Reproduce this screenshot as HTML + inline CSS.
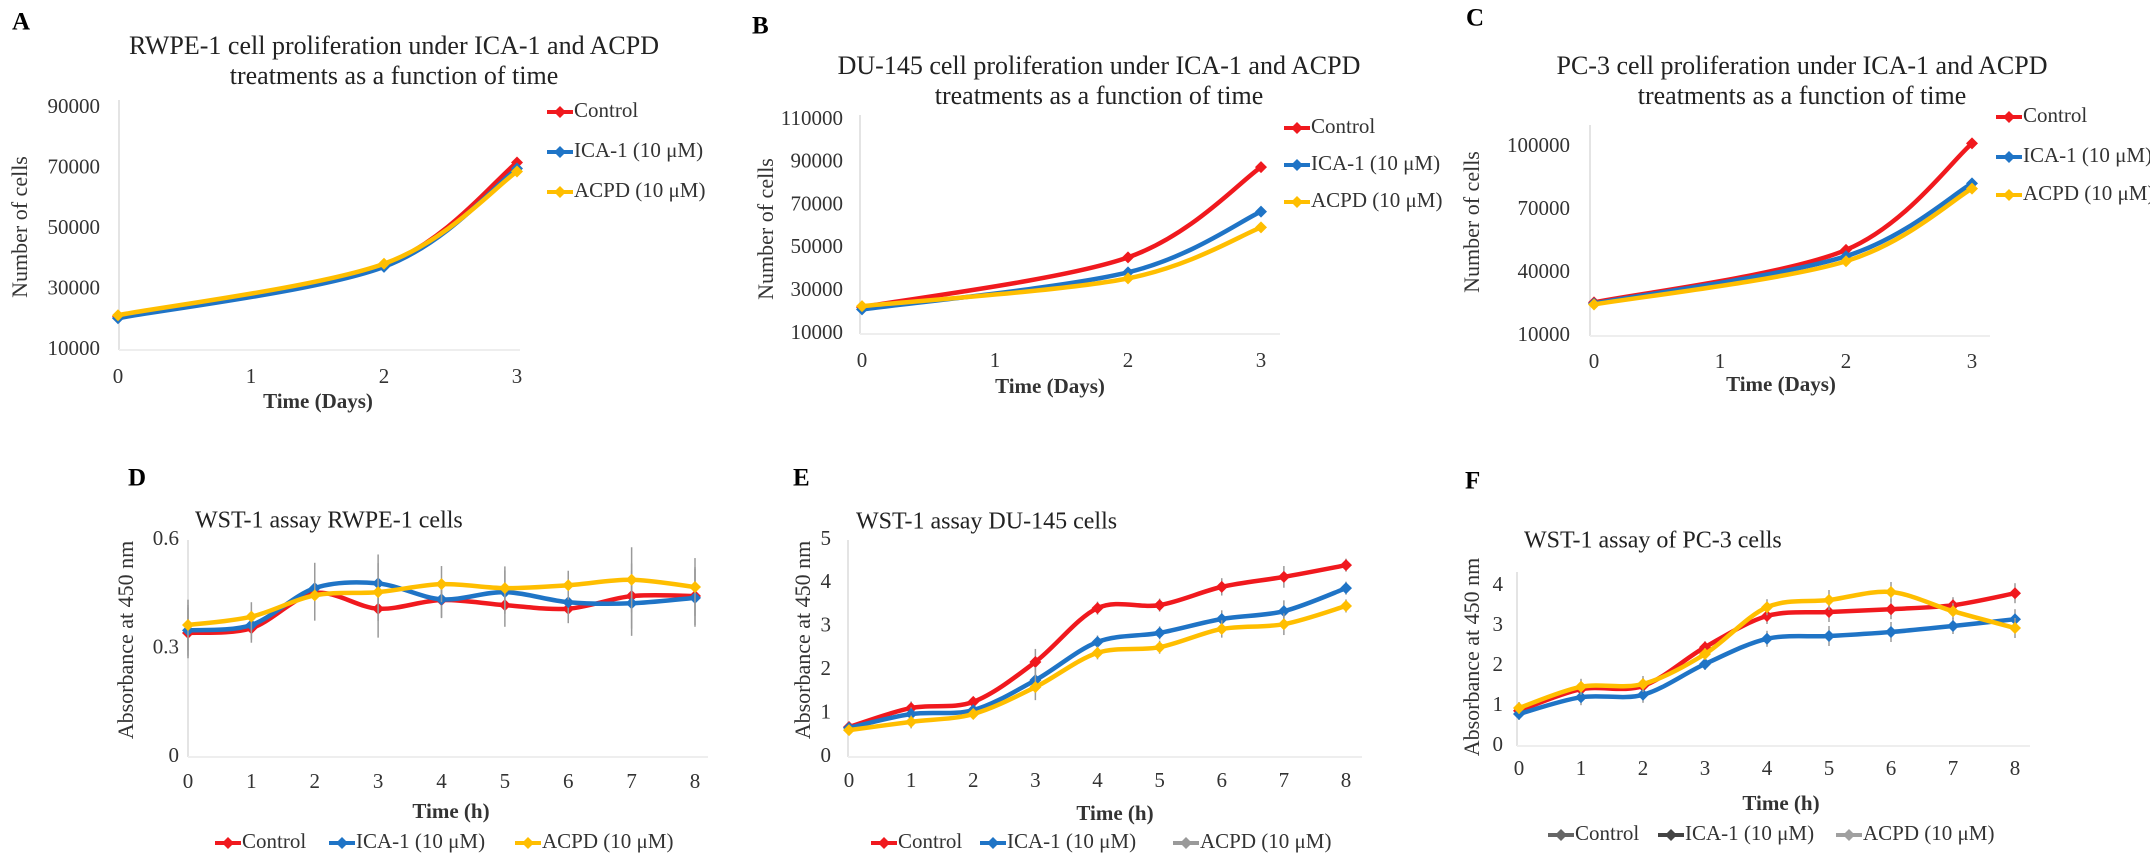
<!DOCTYPE html>
<html><head><meta charset="utf-8"><style>
html,body{margin:0;padding:0;background:#fff;}
svg{display:block;font-family:"Liberation Serif",serif;}
</style></head><body>
<svg id="fig" width="2150" height="866" viewBox="0 0 2150 866" xmlns="http://www.w3.org/2000/svg"></svg>
<script>
// ---- data ----
const daysAll = [0,1,2,3];
const days = [0,2,3];
const aControl = [21000,38000,72000];
const aIca = [20500,37500,70000];
const aAcpd = [21500,38500,69000];
const aTicks = [10000,30000,50000,70000,90000];
const bControl = [22500,45800,88000];
const bIca = [21500,38800,67200];
const bAcpd = [23000,36000,59800];
const bTicks = [10000,30000,50000,70000,90000,110000];
const cControl = [26000,51000,101700];
const cIca = [25500,48000,82700];
const cAcpd = [25000,45600,80200];
const cTicks = [10000,40000,70000,100000];
const hours = [0,1,2,3,4,5,6,7,8];
const dControl = [0.343,0.356,0.453,0.41,0.434,0.42,0.41,0.445,0.445];
const dIca = [0.35,0.365,0.467,0.48,0.436,0.456,0.428,0.425,0.44];
const dAcpd = [0.365,0.388,0.447,0.456,0.478,0.467,0.475,0.49,0.47];
const dErr = [0.07,0.04,0.07,0.08,0.05,0.06,0.04,0.09,0.08];
const dTicks = [0,0.3,0.6];
const eControl = [0.69,1.13,1.27,2.19,3.43,3.5,3.92,4.15,4.42];
const eIca = [0.67,0.99,1.08,1.77,2.65,2.86,3.18,3.36,3.89];
const eAcpd = [0.62,0.81,0.99,1.61,2.4,2.53,2.95,3.06,3.48];
const eErr = [0.12,0.15,0.1,0.3,0.15,0.15,0.2,0.25,0.15];
const eTicks = [0,1,2,3,4,5];
const fControl = [0.88,1.42,1.5,2.47,3.25,3.35,3.42,3.52,3.82];
const fIca = [0.8,1.22,1.28,2.05,2.68,2.75,2.85,3.0,3.17];
const fAcpd = [0.95,1.48,1.55,2.3,3.47,3.65,3.85,3.37,2.95];
const fErr = [0.15,0.2,0.2,0.15,0.2,0.25,0.25,0.2,0.25];
const fTicks = [0,1,2,3,4];
const seriesNames = ["Control","ICA-1 (10 μM)","ACPD (10 μM)"];

const RED="#f0191e", BLUE="#1f74c6", YEL="#ffbe00";
const NS="http://www.w3.org/2000/svg";
const svg=document.getElementById('fig');
function el(tag,attrs,parent,text){const e=document.createElementNS(NS,tag);for(const k in attrs)e.setAttribute(k,attrs[k]);if(text!==undefined)e.textContent=text;(parent||svg).appendChild(e);return e;}
function smoothPath(pts){
  let d=`M${pts[0][0]},${pts[0][1]}`;
  for(let i=0;i<pts.length-1;i++){
    const p0=pts[i-1]||pts[i],p1=pts[i],p2=pts[i+1],p3=pts[i+2]||p2;
    const t=0.16;
    const c1=[p1[0]+(p2[0]-p0[0])*t,p1[1]+(p2[1]-p0[1])*t];
    const c2=[p2[0]-(p3[0]-p1[0])*t,p2[1]-(p3[1]-p1[1])*t];
    d+=` C${c1[0]},${c1[1]} ${c2[0]},${c2[1]} ${p2[0]},${p2[1]}`;
  }
  return d;
}
function diamond(g,x,y,c,r){const p=el('path',{d:`M${x},${y-r} L${x+r},${y} L${x},${y+r} L${x-r},${y} Z`,fill:c},g);return p;}

function panel(o){
  const g=el('g',{});
  
  
  const xs=v=>o.x0+(v-o.xmin)/(o.xmax-o.xmin)*(o.x1-o.x0);
  const ys=v=>o.yb+(v-o.ymin)/(o.ymax-o.ymin)*(o.yt-o.yb);
  const lt=el('text',{x:o.letter[0],y:o.letter[1],'font-size':25,'font-weight':'bold','dominant-baseline':'middle'},g,o.letterText);
  
  o.title.forEach((t,i)=>{const e=el('text',{x:o.titlePos[0],y:o.titlePos[1]+i*30,'font-size':o.titleSize,'text-anchor':o.titleAnchor,'dominant-baseline':'middle',fill:'#222'},g,t);});
  const ya=el('line',{x1:o.axisX,y1:o.axisTop,x2:o.axisX,y2:o.yb,stroke:'#e4e4e4','stroke-width':2},g);
  
  const xa=el('line',{x1:o.axisX,y1:o.yb,x2:o.axisRight,y2:o.yb,stroke:'#eeeeee','stroke-width':2},g);
  
  o.yticks.forEach(v=>{const e=el('text',{x:o.ylabX,y:ys(v),'font-size':o.tickSize,'text-anchor':'end','dominant-baseline':'middle',fill:'#333'},g,String(v));});
  o.xticks.forEach(v=>{const e=el('text',{x:xs(v),y:o.xlabY,'font-size':o.tickSize,'text-anchor':'middle','dominant-baseline':'middle',fill:'#333'},g,String(v));});
  const xt=el('text',{x:o.xTitle[0],y:o.xTitle[1],'font-size':21,'font-weight':'bold','text-anchor':'middle','dominant-baseline':'middle',fill:'#333'},g,o.xTitleText);
  
  const yt=el('text',{x:0,y:0,'font-size':22,'text-anchor':'middle','dominant-baseline':'middle',fill:'#333',transform:`translate(${o.yTitle[0]},${o.yTitle[1]}) rotate(-90)`},g,o.yTitleText);
  
  o.series.forEach((s,si)=>{
    const sg=el('g',{},g);
    
    
    const pts=o.xv.map((x,i)=>[xs(x),ys(s.v[i])]);
    if(o.err){o.xv.forEach((x,i)=>{const e=el('line',{x1:xs(x),x2:xs(x),y1:ys(s.v[i]+o.err[i]),y2:ys(s.v[i]-o.err[i]),stroke:'#9a9a9a','stroke-width':1.5},sg);});}
    const p=el('path',{d:smoothPath(pts),fill:'none',stroke:s.c,'stroke-width':4.5,'stroke-linejoin':'round'},sg);
    
    pts.forEach(pt=>{ diamond(sg,pt[0],pt[1],s.c,6); });
  });
  o.legend.forEach((L,i)=>{
    const lg=el('g',{},g);
    
    
    const c=L[2];
    el('line',{x1:L[0]-13,x2:L[0]+13,y1:L[1],y2:L[1],stroke:c,'stroke-width':4},lg);
    diamond(lg,L[0],L[1],c,6);
    el('text',{x:L[0]+14,y:L[1],'font-size':21,'dominant-baseline':'middle',fill:'#333'},lg,seriesNames[i]);
  });
}

const topSeries=(a,b,c)=>[{v:a,c:RED},{v:b,c:BLUE},{v:c,c:YEL}];
panel({name:'panel-a',letterText:'A',letter:[12,24],title:['RWPE-1 cell proliferation under ICA-1 and ACPD','treatments as a function of time'],titlePos:[394,48],titleSize:26,titleAnchor:'middle',
  x0:118,x1:517,xmin:0,xmax:3,yb:350,yt:108,ymin:10000,ymax:90000,axisX:119,axisTop:100,axisRight:520,
  yticks:aTicks,xticks:daysAll,ylabX:100,xlabY:378,tickSize:21,xTitle:[318,403],xTitleText:'Time (Days)',yTitle:[22,227],yTitleText:'Number of cells',
  xv:days,series:topSeries(aControl,aIca,aAcpd),
  legend:[[560,112,RED],[560,152,BLUE],[560,192,YEL]]});
panel({name:'panel-b',letterText:'B',letter:[752,28],title:['DU-145 cell proliferation under ICA-1 and ACPD','treatments as a function of time'],titlePos:[1099,68],titleSize:26,titleAnchor:'middle',
  x0:862,x1:1261,xmin:0,xmax:3,yb:334,yt:120,ymin:10000,ymax:110000,axisX:860,axisTop:115,axisRight:1280,
  yticks:bTicks,xticks:daysAll,ylabX:843,xlabY:362,tickSize:21,xTitle:[1050,388],xTitleText:'Time (Days)',yTitle:[768,229],yTitleText:'Number of cells',
  xv:days,series:topSeries(bControl,bIca,bAcpd),
  legend:[[1297,128,RED],[1297,165,BLUE],[1297,202,YEL]]});
panel({name:'panel-c',letterText:'C',letter:[1466,20],title:['PC-3 cell proliferation under ICA-1 and ACPD','treatments as a function of time'],titlePos:[1802,68],titleSize:26,titleAnchor:'middle',
  x0:1594,x1:1972,xmin:0,xmax:3,yb:336,yt:147,ymin:10000,ymax:100000,axisX:1590,axisTop:125,axisRight:1990,
  yticks:cTicks,xticks:daysAll,ylabX:1570,xlabY:363,tickSize:21,xTitle:[1781,386],xTitleText:'Time (Days)',yTitle:[1474,222],yTitleText:'Number of cells',
  xv:days,series:topSeries(cControl,cIca,cAcpd),
  legend:[[2009,117,RED],[2009,157,BLUE],[2009,195,YEL]]});
panel({name:'panel-d',letterText:'D',letter:[128,480],title:['WST-1 assay RWPE-1 cells'],titlePos:[195,522],titleSize:24,titleAnchor:'start',
  x0:188,x1:695,xmin:0,xmax:8,yb:757,yt:540,ymin:0,ymax:0.6,axisX:188,axisTop:540,axisRight:708,
  yticks:dTicks,xticks:hours,ylabX:179,xlabY:783,tickSize:21,xTitle:[451,813],xTitleText:'Time (h)',yTitle:[128,640],yTitleText:'Absorbance at 450 nm',
  xv:hours,series:topSeries(dControl,dIca,dAcpd),err:dErr,
  legend:[[228,843,RED],[342,843,BLUE],[528,843,YEL]]});
panel({name:'panel-e',letterText:'E',letter:[793,480],title:['WST-1 assay DU-145 cells'],titlePos:[856,523],titleSize:24,titleAnchor:'start',
  x0:849,x1:1346,xmin:0,xmax:8,yb:757,yt:540,ymin:0,ymax:5,axisX:848,axisTop:540,axisRight:1362,
  yticks:eTicks,xticks:hours,ylabX:831,xlabY:782,tickSize:21,xTitle:[1115,815],xTitleText:'Time (h)',yTitle:[805,640],yTitleText:'Absorbance at 450 nm',
  xv:hours,series:topSeries(eControl,eIca,eAcpd),err:eErr,
  legend:[[884,843,RED],[993,843,BLUE],[1186,843,'#9a9a9a']]});
panel({name:'panel-f',letterText:'F',letter:[1465,483],title:['WST-1 assay of PC-3 cells'],titlePos:[1524,542],titleSize:24,titleAnchor:'start',
  x0:1519,x1:2015,xmin:0,xmax:8,yb:746,yt:586,ymin:0,ymax:4,axisX:1517,axisTop:572,axisRight:2030,
  yticks:fTicks,xticks:hours,ylabX:1503,xlabY:770,tickSize:21,xTitle:[1781,805],xTitleText:'Time (h)',yTitle:[1474,657],yTitleText:'Absorbance at 450 nm',
  xv:hours,series:topSeries(fControl,fIca,fAcpd),err:fErr,
  legend:[[1561,835,'#666'],[1671,835,'#444'],[1849,835,'#a0a0a0']]});
</script>
</body></html>
